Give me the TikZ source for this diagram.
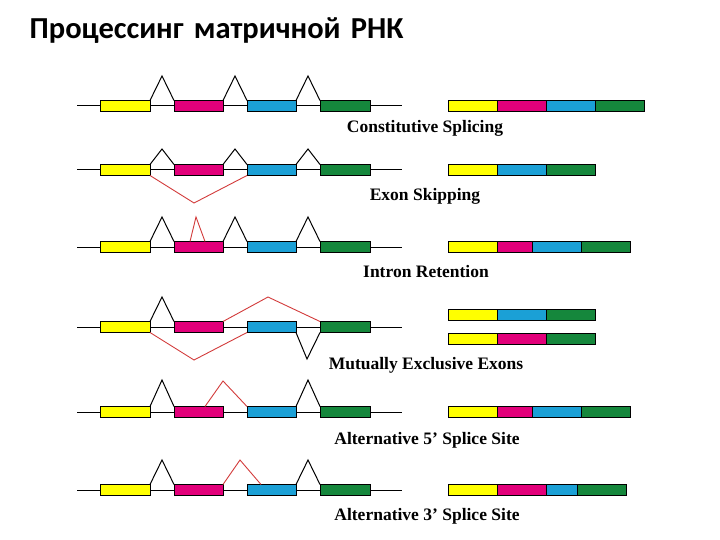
\documentclass[tikz,border=0pt]{standalone}
\usepackage{fontspec}
\setmainfont{Liberation Serif}
\newfontfamily\titlefont{Carlito}
\definecolor{ey}{HTML}{FFFF00}
\definecolor{em}{HTML}{E2007A}
\definecolor{ec}{HTML}{1BA0D6}
\definecolor{eg}{HTML}{15873C}
\definecolor{rl}{HTML}{D23A3A}
\tikzset{exon/.style={draw=black,line width=1pt},
 intr/.style={black,line width=1pt},
 red/.style={rl,line width=0.9pt},
 lab/.style={font=\bfseries\fontsize{17.5}{17.5}\selectfont,inner sep=0},
 bar/.style={draw=black,line width=0.7pt}}
\begin{document}
\begin{tikzpicture}[x=1pt,y=-1pt]
\useasboundingbox (0,0) rectangle (720,540);
\node[anchor=west,fill=white,minimum height=46,minimum width=410,text width=405,inner sep=0,font=\titlefont\bfseries\fontsize{30.5}{30.5}\selectfont] (title) at (15,31) {\hspace{12pt}Процессинг матричной РНК};
\foreach \y/\p [count=\i] in {106/30,170/21,247/30,327/30,412/32,490/30}{
  \draw[line width=1pt] (77,\y) -- (402,\y);
  \draw[exon,fill=ey] (100,\y-5.5) rectangle (150,\y+5.5);
  \draw[exon,fill=em] (174,\y-5.5) rectangle (223,\y+5.5);
  \draw[exon,fill=ec] (247,\y-5.5) rectangle (296,\y+5.5);
  \draw[exon,fill=eg] (320,\y-5.5) rectangle (370,\y+5.5);
  \draw[intr] (150,\y-5.5) -- (162,\y-\p) -- (174,\y-5.5);
}
\foreach \y/\p in {106/30,170/21,247/30}{
  \draw[intr] (223,\y-5.5) -- (235,\y-\p) -- (247,\y-5.5);
  \draw[intr] (296,\y-5.5) -- (308,\y-\p) -- (320,\y-5.5);
}
\foreach \y/\p in {412/32,490/30}{
  \draw[intr] (296,\y-5.5) -- (308,\y-\p) -- (320,\y-5.5);
}
\draw[red] (150,175.5) -- (194,203) -- (247,175.5);
\draw[red] (190,241.5) -- (196,217) -- (205,241.5);
\draw[red] (223,321.5) -- (268,297) -- (320,321.5);
\draw[red] (150,332.5) -- (194,360) -- (247,332.5);
\draw[intr] (296,332.5) -- (307,359) -- (320,332.5);
\draw[red] (205,406.5) -- (223,381) -- (247,406.5);
\draw[red] (223,484.5) -- (240,460) -- (261,484.5);
\newcommand\mbar[2]{%
  \foreach \a/\b/\c in {#2}{\draw[bar,fill=\c] (\a,#1-5.5) rectangle (\b,#1+5.5);}}
\mbar{106}{448/497/ey,497/546/em,546/595/ec,595/644/eg}
\mbar{170}{448/497/ey,497/546/ec,546/595/eg}
\mbar{247}{448/497/ey,497/532/em,532/581/ec,581/630/eg}
\mbar{315}{448/497/ey,497/546/ec,546/595/eg}
\mbar{339}{448/497/ey,497/546/em,546/595/eg}
\mbar{412}{448/497/ey,497/532/em,532/581/ec,581/630/eg}
\mbar{490}{448/497/ey,497/546/em,546/577/ec,577/626/eg}
\node[lab] (l1) at (425,128) {Constitutive Splicing};
\node[lab] (l2) at (425,196) {Exon Skipping};
\node[lab] (l3) at (426,272) {Intron Retention};
\node[lab] (l4) at (426,365) {Mutually Exclusive Exons};
\node[lab] (l5) at (427,440) {Alternative 5' Splice Site};
\node[lab] (l6) at (427,516) {Alternative 3' Splice Site};
\end{tikzpicture}
\end{document}
